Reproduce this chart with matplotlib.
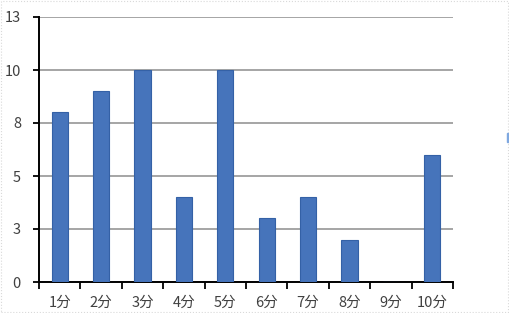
import matplotlib
matplotlib.use("Agg")
import matplotlib.pyplot as plt
from matplotlib.patches import Rectangle

plt.rcParams['font.family'] = ['Noto Sans CJK SC', 'DejaVu Sans']

# data
categories = ['1分', '2分', '3分', '4分', '5分', '6分', '7分', '8分', '9分', '10分']
values = [8, 9, 10, 4, 10, 3, 4, 2, 0, 6]
ytick_values = [0, 2.5, 5, 7.5, 10, 12.5]
ytick_labels = ['0', '3', '5', '8', '10', '13']

fig = plt.figure(figsize=(5.09, 3.13), dpi=100)
ax = fig.add_axes([39 / 509, 31 / 313, 414 / 509, 265 / 313])

x = list(range(len(categories)))
ax.bar(x, values, width=0.39, color='#4674bb', edgecolor='#3461a6',
       linewidth=0.8, zorder=3)

ax.set_xlim(-0.5, len(categories) - 0.5)
ax.set_ylim(0, 12.5)

# gridlines
ax.set_yticks(ytick_values)
ax.set_yticklabels(ytick_labels)
ax.yaxis.grid(True, color='#969696', linewidth=1.2, zorder=1)
ax.set_axisbelow(True)

# x: ticks at boundaries, labels at centres
ax.set_xticks([i - 0.5 for i in range(len(categories) + 1)])
ax.set_xticklabels([])
ax.set_xticks(x, minor=True)
ax.set_xticklabels(categories, minor=True)
ax.tick_params(axis='x', which='major', direction='out', length=5,
               width=1.3, color='black')
ax.tick_params(axis='x', which='minor', length=0, pad=10,
               labelsize=10.5, labelcolor='#404040')
ax.tick_params(axis='y', direction='out', length=4, width=1.3,
               color='black', pad=9, labelsize=10.5, labelcolor='#404040')

for s in ['top', 'right']:
    ax.spines[s].set_visible(False)
for s in ['left', 'bottom']:
    ax.spines[s].set_linewidth(1.4)
    ax.spines[s].set_color('black')

# faint border of the chart area and the clipped legend fragment
fig.patches.append(Rectangle((0.001, 0.003), 0.998, 0.995, transform=fig.transFigure,
                             fill=False, edgecolor='#d9d9d9', linewidth=0.8,
                             linestyle=':'))
fig.patches.append(Rectangle((507 / 509, 171 / 313), 2 / 509, 9 / 313,
                             transform=fig.transFigure, color='#7fa8e0'))

fig.savefig('out.png', dpi=100)
